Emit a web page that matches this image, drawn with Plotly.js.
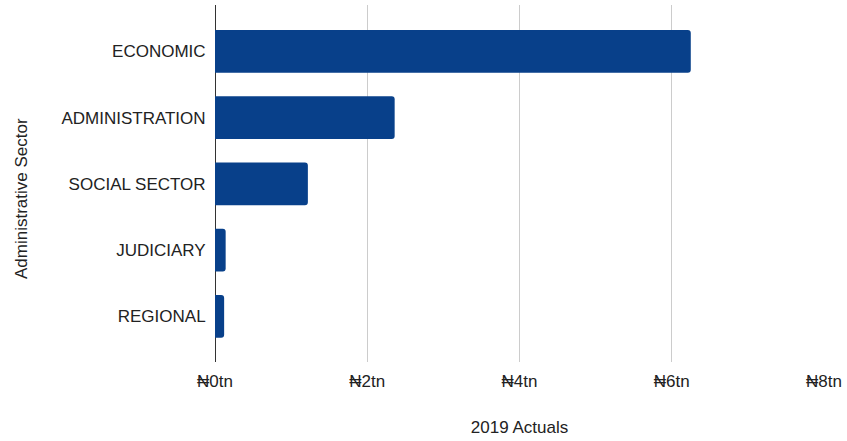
<!DOCTYPE html>
<html>
<head>
<meta charset="utf-8">
<script src="https://cdn.plot.ly/plotly-3.0.1.min.js"></script>
<style>html,body{margin:0;padding:0;background:#fff;}#chart{width:847px;height:441px;}</style>
</head>
<body>
<div id="chart"></div>
<script>
const categories = ["ECONOMIC", "ADMINISTRATION", "SOCIAL SECTOR", "JUDICIARY", "REGIONAL"];
const actuals2019 = [6.25, 2.36, 1.22, 0.14, 0.12];
const xTickValues = [0, 2, 4, 6, 8];
const xTickLabels = ["₦0tn", "₦2tn", "₦4tn", "₦6tn", "₦8tn"];

const FONT = "'Liberation Sans', Arial, sans-serif";
const FS = 17;

const trace = {
  type: "bar",
  orientation: "h",
  y: categories,
  x: actuals2019,
  marker: { color: "#08408a", cornerradius: 3 },
  hoverinfo: "none"
};

const layout = {
  width: 847,
  height: 441,
  margin: { l: 215, r: 23, t: 5, b: 79 },
  paper_bgcolor: "#ffffff",
  plot_bgcolor: "#ffffff",
  bargap: 0.355,
  showlegend: false,
  font: { family: FONT, size: FS, color: "#222222" },
  xaxis: {
    range: [0, 8],
    tickmode: "array",
    tickvals: xTickValues,
    ticktext: xTickLabels,
    showgrid: true,
    gridcolor: "#cccccc",
    gridwidth: 1,
    zeroline: true,
    zerolinecolor: "#333333",
    zerolinewidth: 1,
    showline: false,
    ticks: "outside",
    ticklen: 4,
    tickcolor: "rgba(0,0,0,0)",
    tickfont: { family: FONT, size: FS, color: "#222222" },
    title: { text: "2019 Actuals", font: { family: FONT, size: FS, color: "#222222" }, standoff: 30 }
  },
  yaxis: {
    type: "category",
    range: [4.69, -0.7],
    showgrid: false,
    zeroline: false,
    showline: false,
    ticks: "outside",
    ticklen: 5,
    tickcolor: "rgba(0,0,0,0)",
    tickfont: { family: FONT, size: FS, color: "#222222" }
  },
  annotations: [{
    text: "Administrative Sector",
    xref: "paper", yref: "paper",
    x: (22 - 215) / 609, y: 1 - (199 - 5) / 357,
    xanchor: "center", yanchor: "middle",
    textangle: -90,
    showarrow: false,
    font: { family: FONT, size: FS, color: "#222222" }
  }]
};

Plotly.newPlot("chart", [trace], layout, { staticPlot: true, displayModeBar: false });
</script>
</body>
</html>
